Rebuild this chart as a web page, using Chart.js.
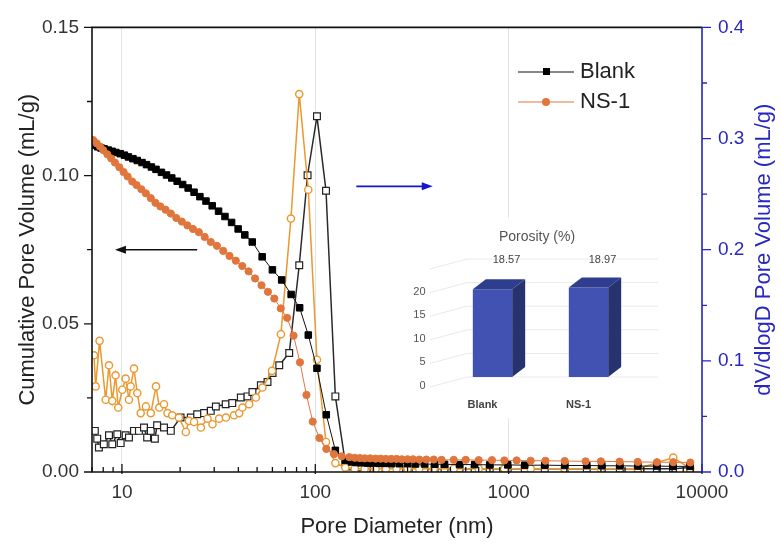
<!DOCTYPE html>
<html lang="en">
<head>
<meta charset="UTF-8">
<title>Pore size distribution - Blank vs NS-1</title>
<script src="https://cdn.jsdelivr.net/npm/chart.js"></script>
<style>
    html, body { margin: 0; padding: 0; background: #fff; }
    #wrap { position: relative; width: 781px; height: 545px; }
    #mainChart { position: absolute; left: 0; top: 0; }
    #insetChart { position: absolute; left: 410px; top: 218px; }
</style>
</head>
<body>
<div id="wrap">
    <canvas id="mainChart" width="781" height="545"></canvas>
    <canvas id="insetChart" width="260" height="200"></canvas>
</div>
<script>
// ---- data ----
// cumulative pore volume (left axis, mL/g)
const blankCumD = [7.2, 7.5, 7.8, 8.1, 8.5, 8.9, 9.3, 9.8, 10.3, 10.8, 11.4, 12.0, 12.7, 13.4, 14.2, 15.0,
    16.0, 17.0, 18.1, 19.3, 20.6, 22.0, 23.6, 25.3, 27.2, 29.3, 31.6, 34.1, 36.9, 39.9, 43.2, 47.2,
    53.1, 60.0, 67.0, 75.0, 83.0, 92.0, 102, 114, 127, 143, 154, 163, 173, 186, 200, 215,
    231, 248, 272, 300, 330, 367, 414, 466, 557, 667, 798, 989, 1211, 1537, 1952, 2536,
    3033, 3758, 4660, 5845, 7079, 8670];
const blankCumV = [0.1102, 0.1097, 0.1093, 0.1090, 0.1086, 0.1082, 0.1078, 0.1074, 0.1069, 0.1063, 0.1057, 0.1051, 0.1044, 0.1037, 0.1029, 0.1021,
    0.1011, 0.1002, 0.0992, 0.0981, 0.0970, 0.0958, 0.0944, 0.0929, 0.0914, 0.0898, 0.0880, 0.0862, 0.0842, 0.0820, 0.0800, 0.0776,
    0.0726, 0.0682, 0.0648, 0.0599, 0.0554, 0.0462, 0.0350, 0.0193, 0.0073, 0.0040, 0.0034, 0.0032, 0.0031, 0.0030, 0.0030, 0.0029,
    0.0029, 0.0028, 0.0028, 0.0028, 0.0027, 0.0027, 0.0026, 0.0026, 0.0025, 0.0025, 0.0024, 0.0024, 0.0023, 0.0023, 0.0022, 0.0022,
    0.0021, 0.0021, 0.0020, 0.0020, 0.0019, 0.0019];

const nsCumD = [7.1, 7.4, 7.7, 8.0, 8.4, 8.8, 9.2, 9.7, 10.2, 10.7, 11.3, 11.9, 12.6, 13.3, 14.1, 14.9,
    15.8, 16.8, 17.9, 19.1, 20.4, 21.8, 23.3, 25.0, 26.8, 28.8, 31.0, 33.4, 36.0, 38.8, 41.9, 45.2,
    48.8, 52.7, 56.9, 61.4, 66.3, 71.5, 77.2, 83.3, 90, 97, 105, 114, 125, 137, 150, 160,
    170, 180, 192, 205, 218, 232, 247, 263, 280, 300, 320, 345, 375, 410, 450, 520,
    600, 700, 820, 950, 1100, 1300, 1550, 1950, 2500, 3000, 3750, 4650, 5850, 7100, 8700];
const nsCumV = [0.1120, 0.1109, 0.1098, 0.1086, 0.1072, 0.1058, 0.1044, 0.1028, 0.1012, 0.0997, 0.0980, 0.0968, 0.0954, 0.0940, 0.0924, 0.0908,
    0.0896, 0.0885, 0.0872, 0.0857, 0.0845, 0.0832, 0.0820, 0.0809, 0.0793, 0.0776, 0.0763, 0.0746, 0.0729, 0.0713, 0.0695, 0.0677,
    0.0653, 0.0630, 0.0608, 0.0585, 0.0552, 0.0520, 0.0460, 0.0370, 0.0260, 0.0170, 0.0115, 0.0078, 0.0060, 0.0053, 0.0050, 0.0048,
    0.0047, 0.0046, 0.0046, 0.0045, 0.0045, 0.0044, 0.0044, 0.0044, 0.0043, 0.0043, 0.0043, 0.0042, 0.0042, 0.0042, 0.0041, 0.0041,
    0.0041, 0.0040, 0.0040, 0.0039, 0.0039, 0.0038, 0.0038, 0.0037, 0.0036, 0.0036, 0.0035, 0.0034, 0.0033, 0.0033, 0.0032];

// dV/dlogD pore volume (right axis, mL/g)
const blankDifD = [7.24, 7.45, 7.6, 8.06, 8.57, 8.91, 9.46, 9.85, 10.45, 10.87, 11.54, 12.24, 13.0, 13.5, 14.1, 14.8,
    15.2, 16.5, 17.9, 20.1, 22.7, 24.5, 26.6, 28.8, 30.6, 34.4, 37.2, 41.2, 44.6, 47.3, 52.3, 56.6,
    60.1, 65.1, 73.3, 82.6, 91.2, 102, 113.6, 127, 143, 154, 163, 173, 186, 200, 215, 231,
    248, 272, 300, 330, 367, 414, 466, 557, 667, 798, 989, 1211, 1537, 1952, 2536, 3033,
    3758, 4660, 5845, 7079, 8670];
const blankDifV = [0.037, 0.030, 0.022, 0.025, 0.033, 0.025, 0.034, 0.026, 0.033, 0.031, 0.037, 0.037, 0.040, 0.031, 0.037, 0.030,
    0.042, 0.040, 0.037, 0.049, 0.049, 0.052, 0.053, 0.055, 0.059, 0.061, 0.062, 0.067, 0.068, 0.072, 0.078, 0.081,
    0.089, 0.096, 0.107, 0.186, 0.267, 0.320, 0.253, 0.068, 0.008, 0.005, 0.004, 0.004, 0.003, 0.003, 0.003, 0.003,
    0.003, 0.003, 0.003, 0.003, 0.003, 0.003, 0.003, 0.003, 0.003, 0.003, 0.003, 0.003, 0.003, 0.003, 0.003, 0.003,
    0.003, 0.003, 0.003, 0.003, 0.004];

const nsDifD = [7.17, 7.31, 7.66, 8.24, 8.57, 8.91, 9.27, 9.57, 10.04, 10.45, 10.87, 11.09, 11.54, 12.0, 12.5, 13.3,
    14.1, 15.0, 15.6, 16.5, 17.2, 18.2, 19.7, 21.4, 22.2, 23.6, 25.6, 27.7, 29.4, 31.8, 34.5, 38.0,
    40.4, 42.0, 45.5, 49.3, 53.3, 59.7, 66.4, 74.8, 82.6, 92.0, 102, 113.6, 127, 143, 160, 180,
    205, 232, 263, 300, 345, 410, 520, 700, 950, 1300, 1950, 3000, 4650, 7100, 8700];
const nsDifV = [0.105, 0.077, 0.118, 0.065, 0.096, 0.064, 0.087, 0.058, 0.074, 0.084, 0.065, 0.077, 0.093, 0.071, 0.053, 0.059,
    0.053, 0.077, 0.058, 0.061, 0.053, 0.051, 0.049, 0.036, 0.046, 0.045, 0.040, 0.048, 0.043, 0.048, 0.049, 0.051,
    0.053, 0.058, 0.061, 0.067, 0.076, 0.091, 0.124, 0.228, 0.340, 0.254, 0.101, 0.027, 0.008, 0.004, 0.003, 0.003,
    0.003, 0.003, 0.003, 0.003, 0.003, 0.003, 0.003, 0.003, 0.003, 0.003, 0.003, 0.003, 0.003, 0.013, 0.003];

// inset: porosity
const porosityLabels = ['Blank', 'NS-1'];
const porosityValues = [18.57, 18.97];

// axis ticks
const xMajor = [10, 100, 1000, 10000];
const xMinor = [7, 8, 9, 20, 30, 40, 50, 60, 70, 80, 90, 200, 300, 400, 500, 600, 700, 800, 900,
    2000, 3000, 4000, 5000, 6000, 7000, 8000, 9000];
const leftMajor = [0, 0.05, 0.10, 0.15];
const leftMinor = [0.025, 0.075, 0.125];
const rightMajor = [0, 0.1, 0.2, 0.3, 0.4];
const rightMinor = [0.05, 0.15, 0.25, 0.35];

const FONT = "'Liberation Sans', Arial, sans-serif";
const BLUE = '#2727c2';
const ORANGE = '#e0763c';
const ORANGE_OPEN = '#ea982f';

function pairs(xs, ys) {
    return xs.map((x, i) => ({ x: x, y: ys[i] }));
}

function arrow(ctx, x1, y1, x2, y2, color) {
    const ang = Math.atan2(y2 - y1, x2 - x1);
    const c = Math.cos(ang), s = Math.sin(ang);
    ctx.strokeStyle = color;
    ctx.fillStyle = color;
    ctx.lineWidth = 1.6;
    ctx.beginPath();
    ctx.moveTo(x1, y1);
    ctx.lineTo(x2 - 8 * c, y2 - 8 * s);
    ctx.stroke();
    ctx.beginPath();
    ctx.moveTo(x2, y2);
    ctx.lineTo(x2 - 11 * c + 4 * s, y2 - 11 * s - 4 * c);
    ctx.lineTo(x2 - 11 * c - 4 * s, y2 - 11 * s + 4 * c);
    ctx.closePath();
    ctx.fill();
}

// frame, tick marks, legend, arrows and the right-hand title
const axisDecor = {
    id: 'axisDecor',
    afterDraw(chart) {
        const { ctx, chartArea: a } = chart;
        const { x, y, y2 } = chart.scales;
        ctx.save();

        ctx.strokeStyle = '#111';
        ctx.lineWidth = 1.3;
        ctx.beginPath();
        leftMajor.forEach(v => { const p = y.getPixelForValue(v); ctx.moveTo(a.left - 8, p); ctx.lineTo(a.left, p); });
        leftMinor.forEach(v => { const p = y.getPixelForValue(v); ctx.moveTo(a.left - 5, p); ctx.lineTo(a.left, p); });
        xMajor.forEach(v => { const p = x.getPixelForValue(v); ctx.moveTo(p, a.bottom + 2); ctx.lineTo(p, a.bottom - 8); });
        xMinor.forEach(v => { const p = x.getPixelForValue(v); ctx.moveTo(p, a.bottom); ctx.lineTo(p, a.bottom - 5); });
        ctx.stroke();

        ctx.lineWidth = 1.6;
        ctx.beginPath();
        ctx.moveTo(a.right, a.top);
        ctx.lineTo(a.left, a.top);
        ctx.lineTo(a.left, a.bottom);
        ctx.lineTo(a.right, a.bottom);
        ctx.stroke();

        ctx.strokeStyle = BLUE;
        ctx.beginPath();
        ctx.moveTo(a.right, a.top);
        ctx.lineTo(a.right, a.bottom);
        ctx.stroke();
        ctx.lineWidth = 1.3;
        ctx.beginPath();
        rightMajor.forEach(v => { const p = y2.getPixelForValue(v); ctx.moveTo(a.right, p); ctx.lineTo(a.right + 9, p); });
        rightMinor.forEach(v => { const p = y2.getPixelForValue(v); ctx.moveTo(a.right, p); ctx.lineTo(a.right + 5, p); });
        ctx.stroke();

        // right axis title, reading bottom to top
        ctx.fillStyle = BLUE;
        ctx.font = '22px ' + FONT;
        ctx.textAlign = 'center';
        ctx.textBaseline = 'middle';
        ctx.translate(764, (a.top + a.bottom) / 2);
        ctx.rotate(-Math.PI / 2);
        ctx.fillText('dV/dlogD Pore Volume (mL/g)', 0, 0);
        ctx.setTransform(1, 0, 0, 1, 0, 0);

        // arrows pointing to the axes
        arrow(ctx, x.getPixelForValue(24.5), y.getPixelForValue(0.075), x.getPixelForValue(9.2), y.getPixelForValue(0.075), '#111');
        arrow(ctx, x.getPixelForValue(163), y2.getPixelForValue(0.257), x.getPixelForValue(405), y2.getPixelForValue(0.257), '#1515cc');

        // legend
        ctx.font = '22px ' + FONT;
        ctx.textAlign = 'left';
        ctx.textBaseline = 'middle';
        ctx.lineWidth = 1.2;
        ctx.strokeStyle = '#111';
        ctx.beginPath(); ctx.moveTo(518, 72); ctx.lineTo(574, 72); ctx.stroke();
        ctx.fillStyle = '#000';
        ctx.fillRect(543, 68, 7, 7);
        ctx.fillStyle = '#222';
        ctx.fillText('Blank', 580, 72);
        ctx.strokeStyle = ORANGE;
        ctx.beginPath(); ctx.moveTo(518, 102); ctx.lineTo(574, 102); ctx.stroke();
        ctx.fillStyle = ORANGE;
        ctx.beginPath(); ctx.arc(546, 102, 4, 0, Math.PI * 2); ctx.fill();
        ctx.fillStyle = '#222';
        ctx.fillText('NS-1', 580, 102);

        ctx.restore();
    }
};

new Chart(document.getElementById('mainChart'), {
    type: 'line',
    data: {
        datasets: [
            {
                label: 'Blank',
                data: pairs(blankCumD, blankCumV),
                yAxisID: 'y',
                borderColor: '#111',
                borderWidth: 1,
                pointStyle: 'rect',
                pointRadius: 4.6,
                pointBackgroundColor: '#000',
                pointBorderColor: '#000',
                pointBorderWidth: 1,
                order: 2
            },
            {
                label: 'NS-1',
                data: pairs(nsCumD, nsCumV),
                yAxisID: 'y',
                borderColor: ORANGE,
                borderWidth: 1,
                pointStyle: 'circle',
                pointRadius: 3.6,
                pointBackgroundColor: ORANGE,
                pointBorderColor: ORANGE,
                pointBorderWidth: 1,
                order: 1
            },
            {
                label: 'Blank dV/dlogD',
                data: pairs(blankDifD, blankDifV),
                yAxisID: 'y2',
                borderColor: '#2a2a2a',
                borderWidth: 1.5,
                pointStyle: 'rect',
                pointRadius: 4.8,
                pointBackgroundColor: '#fff',
                pointBorderColor: '#222',
                pointBorderWidth: 1.2,
                order: 4
            },
            {
                label: 'NS-1 dV/dlogD',
                data: pairs(nsDifD, nsDifV),
                yAxisID: 'y2',
                borderColor: ORANGE_OPEN,
                borderWidth: 1.5,
                pointStyle: 'circle',
                pointRadius: 3.6,
                pointBackgroundColor: '#fff',
                pointBorderColor: ORANGE_OPEN,
                pointBorderWidth: 1.4,
                order: 3
            }
        ]
    },
    options: {
        responsive: false,
        animation: false,
        devicePixelRatio: 1,
        layout: { padding: { top: 20, left: 0, right: 0, bottom: 0 } },
        plugins: {
            legend: { display: false },
            tooltip: { enabled: false }
        },
        scales: {
            x: {
                type: 'logarithmic',
                min: 7,
                max: 10000,
                afterBuildTicks: s => { s.ticks = xMajor.map(v => ({ value: v })); },
                afterFit: s => { s.height = 73; },
                grid: { color: '#e4e4e4', drawTicks: false },
                border: { display: false },
                ticks: {
                    padding: 9,
                    color: '#333',
                    font: { size: 19, family: FONT },
                    maxRotation: 0,
                    autoSkip: false,
                    callback: v => String(v)
                },
                title: {
                    display: true,
                    text: 'Pore Diameter (nm)',
                    color: '#222',
                    font: { size: 22, family: FONT },
                    padding: { top: 0, bottom: 5 }
                }
            },
            y: {
                position: 'left',
                min: 0,
                max: 0.15,
                afterBuildTicks: s => { s.ticks = leftMajor.map(v => ({ value: v })); },
                afterFit: s => { s.width = 92; },
                grid: { display: false, drawTicks: false },
                border: { display: false },
                ticks: {
                    padding: 13,
                    color: '#333',
                    font: { size: 19, family: FONT },
                    callback: v => v.toFixed(2)
                },
                title: {
                    display: true,
                    text: 'Cumulative Pore Volume (mL/g)',
                    color: '#222',
                    font: { size: 22, family: FONT },
                    padding: { top: 15, bottom: 0 }
                }
            },
            y2: {
                position: 'right',
                min: 0,
                max: 0.4,
                afterBuildTicks: s => { s.ticks = rightMajor.map(v => ({ value: v })); },
                afterFit: s => { s.width = 79; },
                grid: { display: false, drawTicks: false },
                border: { display: false },
                ticks: {
                    padding: 16,
                    color: BLUE,
                    font: { size: 19, family: FONT },
                    callback: v => v.toFixed(1)
                }
            }
        }
    },
    plugins: [axisDecor]
});

// inset: white panel, wall grid lines, 3D faces and labels
const insetDecor = {
    id: 'insetDecor',
    beforeDraw(chart) {
        const ctx = chart.ctx;
        ctx.save();
        ctx.fillStyle = '#fff';
        ctx.fillRect(0, 0, chart.width, chart.height);
        ctx.restore();
    },
    beforeDatasetsDraw(chart) {
        const ctx = chart.ctx;
        const y = chart.scales.y;
        ctx.save();
        ctx.strokeStyle = '#e9e9e9';
        ctx.lineWidth = 1;
        [0, 5, 10, 15, 20, 25].forEach(v => {
            const p = y.getPixelForValue(v);
            ctx.beginPath();
            ctx.moveTo(20, p + 10);
            ctx.lineTo(57, p);
            ctx.lineTo(248, p);
            ctx.stroke();
        });
        ctx.restore();
    },
    afterDatasetsDraw(chart) {
        const ctx = chart.ctx;
        const dx = 13, dy = 10;
        ctx.save();
        chart.getDatasetMeta(0).data.forEach((bar, i) => {
            const p = bar.getProps(['x', 'y', 'base', 'width'], true);
            const x0 = p.x - p.width / 2, x1 = p.x + p.width / 2;
            ctx.fillStyle = '#2f3d8f';
            ctx.beginPath();
            ctx.moveTo(x0, p.y); ctx.lineTo(x0 + dx, p.y - dy);
            ctx.lineTo(x1 + dx, p.y - dy); ctx.lineTo(x1, p.y);
            ctx.closePath(); ctx.fill();
            ctx.fillStyle = '#27336f';
            ctx.beginPath();
            ctx.moveTo(x1, p.y); ctx.lineTo(x1 + dx, p.y - dy);
            ctx.lineTo(x1 + dx, p.base - dy); ctx.lineTo(x1, p.base);
            ctx.closePath(); ctx.fill();
            ctx.fillStyle = '#444';
            ctx.font = '11px ' + FONT;
            ctx.textAlign = 'center';
            ctx.textBaseline = 'middle';
            ctx.fillText(porosityValues[i].toFixed(2), p.x + 14, 42);
        });
        ctx.fillStyle = '#555';
        ctx.font = '14px ' + FONT;
        ctx.textAlign = 'center';
        ctx.textBaseline = 'middle';
        ctx.fillText('Porosity (%)', 127, 19);
        ctx.restore();
    }
};

new Chart(document.getElementById('insetChart'), {
    type: 'bar',
    data: {
        labels: porosityLabels,
        datasets: [{
            data: porosityValues,
            backgroundColor: '#4152b3',
            barPercentage: 0.41,
            categoryPercentage: 1
        }]
    },
    options: {
        responsive: false,
        animation: false,
        devicePixelRatio: 1,
        layout: { padding: { top: 41, left: 0, right: 33.5, bottom: 0 } },
        plugins: {
            legend: { display: false },
            tooltip: { enabled: false }
        },
        scales: {
            x: {
                grid: { display: false, drawTicks: false },
                border: { display: false },
                afterFit: s => { s.height = 41; },
                ticks: {
                    padding: 21,
                    labelOffset: -10,
                    color: '#444',
                    font: { size: 11, weight: 'bold', family: FONT }
                }
            },
            y: {
                min: 0,
                max: 25,
                afterBuildTicks: s => { s.ticks = [0, 5, 10, 15, 20, 25].map(v => ({ value: v })); },
                afterFit: s => { s.width = 34.5; },
                grid: { display: false, drawTicks: false },
                border: { display: false },
                ticks: {
                    padding: 19,
                    labelOffset: 9,
                    color: '#555',
                    font: { size: 11, family: FONT },
                    callback: v => (v === 25 ? '' : v)
                }
            }
        }
    },
    plugins: [insetDecor]
});
</script>
</body>
</html>
